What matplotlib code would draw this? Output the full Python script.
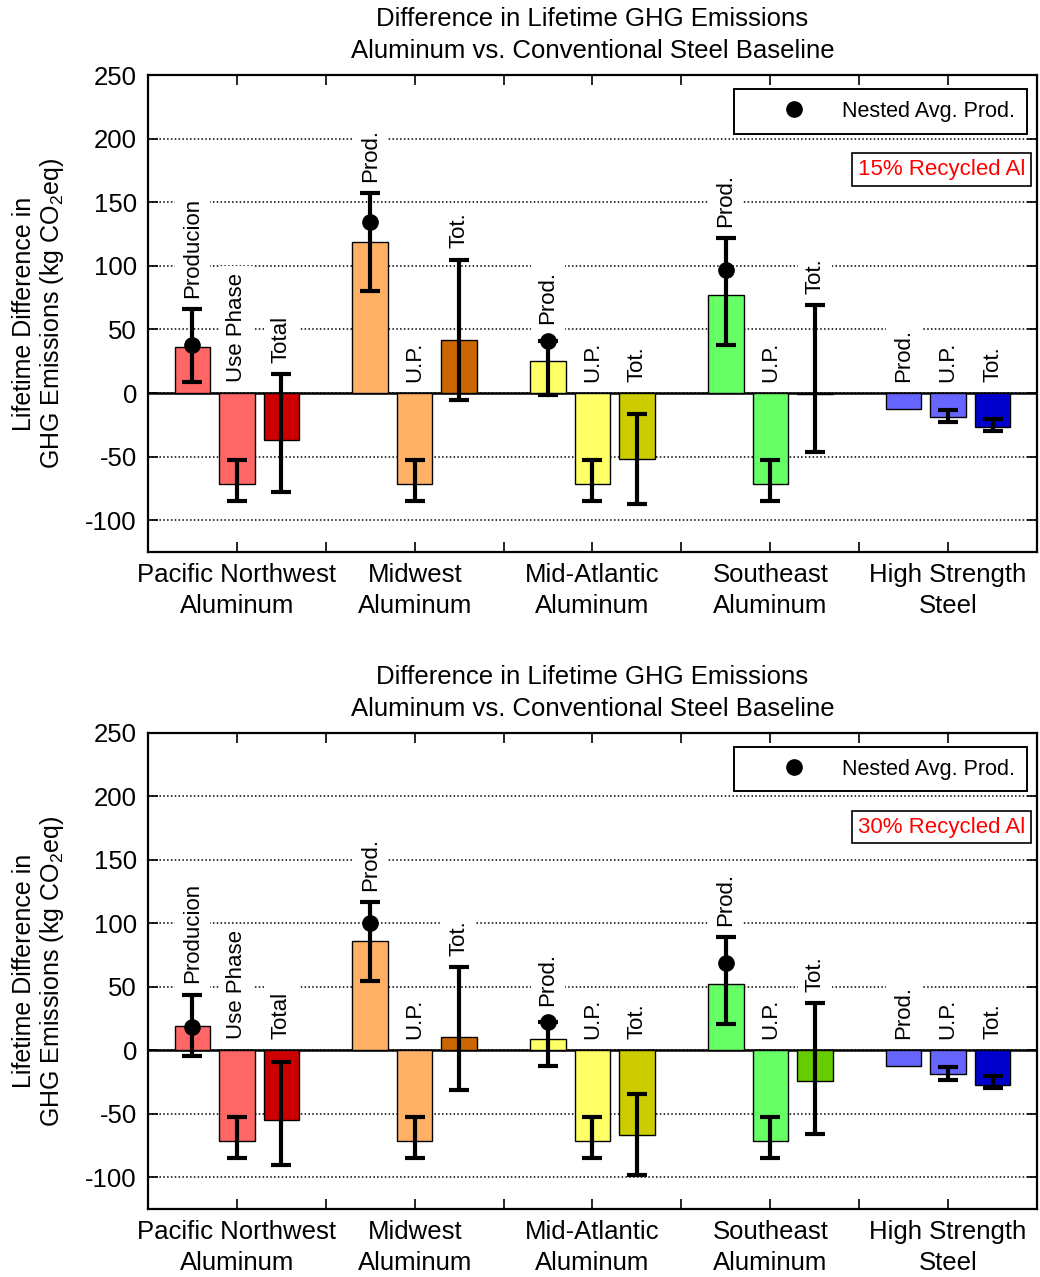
import numpy as np
import matplotlib.pyplot as plt
from matplotlib.lines import Line2D
from matplotlib.ticker import FixedLocator

plt.rcParams['font.family'] = ['Liberation Sans', 'DejaVu Sans']
plt.rcParams['mathtext.fontset'] = 'custom'
plt.rcParams['mathtext.rm'] = 'Liberation Sans'
plt.rcParams['mathtext.it'] = 'Liberation Sans:italic'
plt.rcParams['axes.unicode_minus'] = False

groups = ['Pacific Northwest\nAluminum', 'Midwest\nAluminum', 'Mid-Atlantic\nAluminum',
          'Southeast\nAluminum', 'High Strength\nSteel']
bar_names = [['Producion', 'Use Phase', 'Total'],
             ['Prod.', 'U.P.', 'Tot.'],
             ['Prod.', 'U.P.', 'Tot.'],
             ['Prod.', 'U.P.', 'Tot.'],
             ['Prod.', 'U.P.', 'Tot.']]
light = ['#FF6666', '#FFB266', '#FFFF66', '#66FF66', '#6666FF']
dark = ['#CC0000', '#CC6600', '#CCCC00', '#66CC00', '#0000CC']

# production, use phase, total per group (kg CO2 eq)
prod_15 = [36, 119, 25, 77, -12.5]
prod_30 = [19, 86, 9, 52, -12.5]
use_phase = [-71.5, -71.5, -71.5, -71.5, -19]
total_15 = [-37, 42, -51.5, -1, -27]
total_30 = [-54.5, 10.5, -67, -24.5, -27]

# nested average production (aluminum regions only)
nested_15 = [37.5, 134.5, 41, 97]
nested_30 = [18.5, 100, 22, 68.5]

# error bar ranges (low, high); nan = no bar
prod_lo_15 = [9, 80, -1.5, 38, np.nan]
prod_hi_15 = [66, 157, 41, 122, np.nan]
prod_lo_30 = [-4.5, 55, -12.5, 21, np.nan]
prod_hi_30 = [44, 117, 22, 89.5, np.nan]
up_lo = [-84.5, -84.5, -84.5, -84.5, -23]
up_hi = [-52.5, -52.5, -52.5, -52.5, -13]
tot_lo_15 = [-78, -5.5, -87.5, -46.5, -29.5]
tot_hi_15 = [15, 105, -16.5, 69, -20.5]
tot_lo_30 = [-90, -31, -98, -65.5, -29.5]
tot_hi_30 = [-9, 65.5, -34, 37.5, -20.5]

panels = [
    dict(prod=prod_15, total=total_15, nested=nested_15,
         plo=prod_lo_15, phi=prod_hi_15, tlo=tot_lo_15, thi=tot_hi_15,
         tag='15% Recycled Al'),
    dict(prod=prod_30, total=total_30, nested=nested_30,
         plo=prod_lo_30, phi=prod_hi_30, tlo=tot_lo_30, thi=tot_hi_30,
         tag='30% Recycled Al'),
]

fig = plt.figure(figsize=(10.4, 12.77), dpi=100)
axes = [fig.add_axes([0.1423, 0.5677, 0.8548, 0.3735]),
        fig.add_axes([0.1423, 0.0532, 0.8548, 0.3728])]

centers = np.arange(1, 6)
offsets = [-0.25, 0.0, 0.25]
width = 0.2

for ax, p in zip(axes, panels):
    ax.set_axisbelow(True)
    ax.yaxis.grid(True, color='black', linestyle=(0, (1, 1.5)), linewidth=1.1)
    ax.axhline(0, color='black', linewidth=1.8, zorder=1.5)

    for g in range(5):
        vals = [p['prod'][g], use_phase[g], p['total'][g]]
        los = [p['plo'][g], up_lo[g], p['tlo'][g]]
        his = [p['phi'][g], up_hi[g], p['thi'][g]]
        cols = [light[g], light[g], dark[g]]
        for k in range(3):
            x = centers[g] + offsets[k]
            ax.bar(x, vals[k], width, color=cols[k], edgecolor='black',
                   linewidth=1.0, zorder=2)
            top = max(0, vals[k])
            off = 8
            if not np.isnan(los[k]):
                mid = (los[k] + his[k]) / 2
                ax.errorbar(x, mid, yerr=[[mid - los[k]], [his[k] - mid]],
                            fmt='none', ecolor='black', elinewidth=3,
                            capsize=7.5, capthick=3, zorder=3)
                top = max(top, his[k])
            if k == 0 and g < len(p['nested']):
                dot = p['nested'][g]
                ax.plot(x, dot, 'o', color='black', markersize=11, zorder=4)
                if dot >= top - 3:
                    top = max(top, dot)
                    off = 12
            ax.annotate(bar_names[g][k], (x, top), xytext=(0, off),
                        textcoords='offset points', rotation=90,
                        ha='center', va='bottom', fontsize=16, zorder=5,
                        bbox=dict(boxstyle='square,pad=0.3', facecolor='white',
                                  edgecolor='none'))

    ax.set_xlim(0.5, 5.5)
    ax.set_ylim(-125, 250)
    ax.set_xticks(centers)
    ax.set_xticklabels(groups, fontsize=18.5, linespacing=1.35)
    ax.xaxis.set_minor_locator(FixedLocator([1.5, 2.5, 3.5, 4.5]))
    ax.yaxis.set_major_locator(FixedLocator(np.arange(-100, 251, 50)))
    ax.tick_params(axis='y', labelsize=18.5)
    ax.tick_params(which='both', direction='in', top=True, right=True,
                   length=7, width=1.2, pad=8)
    for s in ax.spines.values():
        s.set_linewidth(1.6)

    ax.set_title('Difference in Lifetime GHG Emissions\nAluminum vs. Conventional Steel Baseline',
                 fontsize=18.5, linespacing=1.45, pad=12)
    ax.set_ylabel('Lifetime Difference in\nGHG Emissions (kg CO$_2$eq)',
                  fontsize=18, linespacing=1.1, labelpad=14)

    handle = Line2D([], [], marker='o', color='black', linestyle='none',
                    markersize=11)
    leg = ax.legend([handle], ['Nested Avg. Prod.'], loc='upper right',
                    bbox_to_anchor=(0.989, 0.971), borderaxespad=0,
                    fontsize=15.5, handlelength=4.5, handletextpad=0.0,
                    borderpad=0.55, fancybox=False, framealpha=1)
    leg.get_frame().set_edgecolor('black')
    leg.get_frame().set_linewidth(1.4)

    ax.text(0.9865, 0.802, p['tag'], transform=ax.transAxes, color='red',
            fontsize=16, ha='right', va='center', zorder=6,
            bbox=dict(boxstyle='square,pad=0.25', facecolor='white',
                      edgecolor='black', linewidth=1.2))

fig.savefig('out.png', dpi=100)
